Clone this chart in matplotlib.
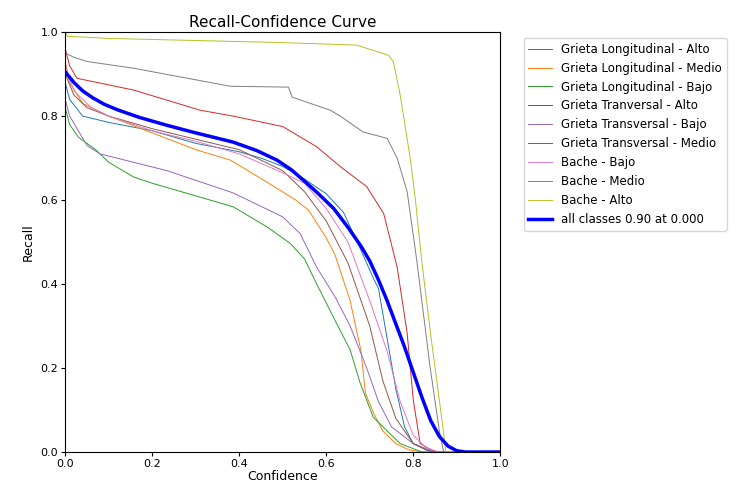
import matplotlib
matplotlib.use("Agg")
import matplotlib.pyplot as plt

# class names shown in the legend (tab10 colours in this order)
names = ["Grieta Longitudinal - Alto", "Grieta Longitudinal - Medio",
         "Grieta Longitudinal - Bajo", "Grieta Tranversal - Alto",
         "Grieta Transversal - Bajo", "Grieta Transversal - Medio",
         "Bache - Bajo", "Bache - Medio", "Bache - Alto"]

# confidence / recall points
gl_alto_x = [0, 0.01, 0.04, 0.1, 0.2, 0.3, 0.4, 0.45, 0.5, 0.55, 0.6, 0.64, 0.68, 0.71, 0.72, 0.74, 0.76, 0.78, 0.8, 0.83, 0.86, 1.0]
gl_alto_y = [0.88, 0.84, 0.80, 0.785, 0.765, 0.735, 0.715, 0.70, 0.68, 0.65, 0.615, 0.57, 0.48, 0.41, 0.39, 0.27, 0.15, 0.06, 0.02, 0.005, 0, 0]

gl_medio_x = [0, 0.01, 0.04, 0.1, 0.2, 0.3, 0.38, 0.46, 0.53, 0.56, 0.6, 0.62, 0.655, 0.68, 0.69, 0.71, 0.73, 0.76, 0.79, 0.82, 1.0]
gl_medio_y = [0.93, 0.88, 0.83, 0.80, 0.76, 0.72, 0.695, 0.645, 0.60, 0.575, 0.51, 0.47, 0.36, 0.24, 0.14, 0.09, 0.05, 0.02, 0.005, 0, 0]

gl_bajo_x = [0, 0.01, 0.03, 0.07, 0.1, 0.157, 0.2, 0.31, 0.386, 0.464, 0.517, 0.55, 0.578, 0.617, 0.655, 0.678, 0.708, 0.74, 0.77, 0.82, 1.0]
gl_bajo_y = [0.82, 0.78, 0.75, 0.72, 0.69, 0.655, 0.64, 0.607, 0.584, 0.536, 0.497, 0.46, 0.40, 0.32, 0.243, 0.164, 0.083, 0.05, 0.02, 0, 0]

gt_alto_x = [0, 0.01, 0.027, 0.157, 0.31, 0.386, 0.5, 0.578, 0.632, 0.693, 0.732, 0.763, 0.786, 0.80, 0.816, 0.85, 1.0]
gt_alto_y = [0.96, 0.92, 0.89, 0.862, 0.814, 0.80, 0.775, 0.727, 0.68, 0.632, 0.568, 0.44, 0.283, 0.124, 0.02, 0, 0]

gt_bajo_x = [0, 0.01, 0.05, 0.08, 0.234, 0.386, 0.5, 0.54, 0.578, 0.62, 0.655, 0.693, 0.72, 0.75, 0.8, 0.85, 1.0]
gt_bajo_y = [0.84, 0.80, 0.73, 0.71, 0.67, 0.617, 0.56, 0.52, 0.44, 0.37, 0.30, 0.20, 0.12, 0.06, 0.02, 0, 0]

gt_medio_x = [0, 0.02, 0.05, 0.1, 0.2, 0.3, 0.4, 0.5, 0.55, 0.6, 0.65, 0.7, 0.73, 0.76, 0.8, 0.84, 1.0]
gt_medio_y = [0.90, 0.85, 0.82, 0.80, 0.77, 0.745, 0.72, 0.67, 0.62, 0.55, 0.45, 0.30, 0.17, 0.08, 0.02, 0, 0]

b_bajo_x = [0, 0.02, 0.06, 0.1, 0.2, 0.3, 0.4, 0.5, 0.55, 0.6, 0.65, 0.7, 0.74, 0.77, 0.8, 0.83, 0.86, 1.0]
b_bajo_y = [0.92, 0.86, 0.82, 0.80, 0.765, 0.74, 0.71, 0.665, 0.64, 0.58, 0.50, 0.36, 0.24, 0.12, 0.04, 0.01, 0, 0]

b_medio_x = [0, 0.02, 0.05, 0.157, 0.38, 0.513, 0.522, 0.609, 0.632, 0.685, 0.74, 0.763, 0.786, 0.808, 0.839, 0.86, 0.87, 1.0]
b_medio_y = [0.95, 0.94, 0.93, 0.914, 0.871, 0.869, 0.845, 0.814, 0.80, 0.762, 0.747, 0.70, 0.62, 0.457, 0.20, 0.05, 0, 0]

b_alto_x = [0, 0.005, 0.1, 0.3, 0.5, 0.67, 0.743, 0.754, 0.77, 0.793, 0.805, 0.82, 0.84, 0.866, 0.875, 1.0]
b_alto_y = [1.0, 0.99, 0.985, 0.98, 0.975, 0.969, 0.945, 0.93, 0.85, 0.70, 0.60, 0.45, 0.28, 0.076, 0, 0]

all_x = [0, 0.02, 0.04, 0.064, 0.09, 0.12, 0.17, 0.234, 0.3, 0.386, 0.44, 0.487, 0.52, 0.55, 0.58, 0.617,
         0.65, 0.68, 0.7, 0.72, 0.74, 0.76, 0.78, 0.8, 0.82, 0.84, 0.86, 0.88, 0.9, 0.92, 1.0]
all_y = [0.905, 0.88, 0.86, 0.843, 0.828, 0.815, 0.797, 0.778, 0.76, 0.738, 0.718, 0.695, 0.672, 0.645, 0.617, 0.58,
         0.535, 0.49, 0.455, 0.41, 0.36, 0.305, 0.25, 0.19, 0.13, 0.075, 0.037, 0.014, 0.003, 0, 0]

curves = [(gl_alto_x, gl_alto_y), (gl_medio_x, gl_medio_y), (gl_bajo_x, gl_bajo_y),
          (gt_alto_x, gt_alto_y), (gt_bajo_x, gt_bajo_y), (gt_medio_x, gt_medio_y),
          (b_bajo_x, b_bajo_y), (b_medio_x, b_medio_y), (b_alto_x, b_alto_y)]

fig = plt.figure(figsize=(7.5, 4.94), dpi=100)
ax = fig.add_axes([0.087, 0.085, 0.58, 0.85])

for i, (cx, cy) in enumerate(curves):
    ax.plot(cx, cy, linewidth=0.7, color=f"C{i}", label=names[i])
ax.plot(all_x, all_y, linewidth=2.5, color="blue", label="all classes 0.90 at 0.000")

ax.set_xlim(0, 1)
ax.set_ylim(0, 1)
ax.set_xlabel("Confidence", fontsize=9, labelpad=1)
ax.set_ylabel("Recall", fontsize=9)
ax.set_title("Recall-Confidence Curve", fontsize=11, pad=4)
ax.tick_params(labelsize=8, length=3, pad=2)
ax.legend(bbox_to_anchor=(1.04, 1), loc="upper left", fontsize=8.5, frameon=True)

fig.savefig("out.png")
